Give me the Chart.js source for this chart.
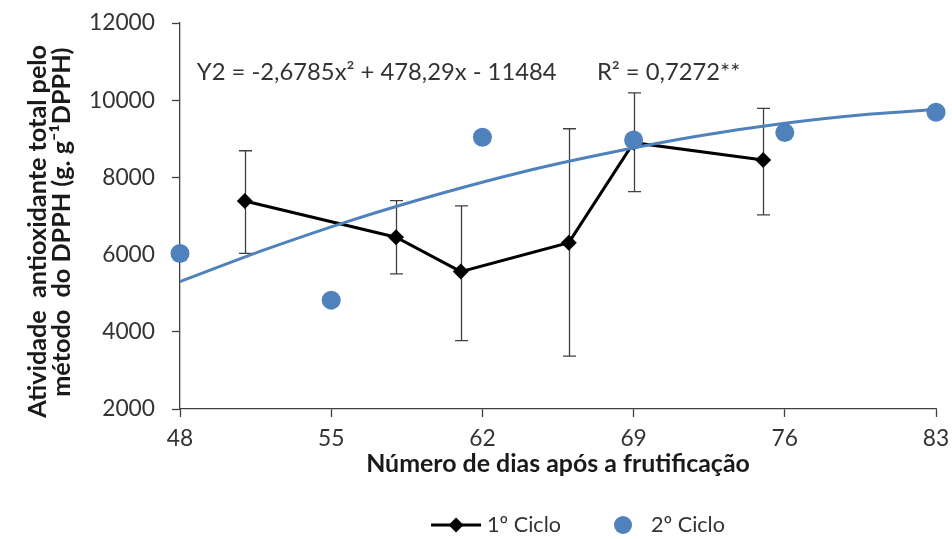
<!DOCTYPE html>
<html><head><meta charset="utf-8">
<script src="https://cdn.jsdelivr.net/npm/chart.js@4.4.0/dist/chart.umd.min.js"></script>
<style>html,body{margin:0;padding:0;background:#fff;}#wrap{width:952px;height:539px;}</style>
</head><body><div id="wrap"><canvas id="c" width="952" height="539"></canvas></div>
<script>
// ---- data ----
const days1 = [51, 58, 61, 66, 69, 75];
const ciclo1 = [7390, 6450, 5560, 6310, 8900, 8450];
const ciclo1Low = [6030, 5500, 3770, 3370, 7630, 7030];
const ciclo1High = [8690, 7400, 7260, 9260, 10190, 9790];
const days2 = [48, 55, 62, 69, 76, 83];
const ciclo2 = [6030, 4820, 9040, 8970, 9160, 9690];
const trendDays = [48, 52, 56, 60, 64, 68, 72, 76, 80, 83];
const trendValues = [5300, 6140, 6900, 7570, 8160, 8650, 9070, 9400, 9640, 9760];
const xTicks = [48, 55, 62, 69, 76, 83];
const yTicks = [2000, 4000, 6000, 8000, 10000, 12000];
const seriesNames = ['1º Ciclo', '2º Ciclo'];
const xTitle = 'Número de dias após a frutificação';
const yTitle = ['Atividade  antioxidante total pelo', 'método  do DPPH (g. g⁻¹DPPH)'];
const equationText = 'Y2 = -2,6785x² + 478,29x - 11484';
const r2Text = 'R² = 0,7272**';
const equationPos = [48.78, 10730];
const r2Pos = [67.3, 10730];

const BLUE = '#4F81BD';
const AXIS = '#404040';
const TXT = '#333333';
const FAM = 'Lato, "Open Sans", sans-serif';

const mctx = document.createElement('canvas').getContext('2d');
function fitSize(text, weight, target) {
  mctx.font = weight + ' 100px ' + FAM;
  return 100 * target / mctx.measureText(text).width;
}
const yTitleSize = fitSize(yTitle[0], 'bold', 373);
const xTitleSize = fitSize(xTitle, 'bold', 384);
const eqSize = fitSize(equationText, 'normal', 360);
const tickSize = fitSize('12000', 'normal', 66);
const legSize = fitSize(seriesNames[0], 'normal', 74);

function padLine(text, shiftPx) {
  mctx.font = 'bold ' + yTitleSize + 'px ' + FAM;
  const base = mctx.measureText(text).width;
  let t = text;
  while (mctx.measureText(t).width < base + 2 * shiftPx) t += ' ';
  return t;
}
const yTitleLines = [padLine(yTitle[0], 15), padLine(yTitle[1], 6)];

const errorBars = {
  id: 'errorBars',
  beforeDatasetsDraw(chart) {
    const {ctx, scales: {x, y}} = chart;
    ctx.save();
    ctx.strokeStyle = AXIS; ctx.lineWidth = 1.3;
    days1.forEach((d, i) => {
      const px = Math.round(x.getPixelForValue(d)) + 0.5;
      const t = y.getPixelForValue(ciclo1High[i]);
      const b = y.getPixelForValue(ciclo1Low[i]);
      ctx.beginPath();
      ctx.moveTo(px, t); ctx.lineTo(px, b);
      ctx.moveTo(px - 6.5, t); ctx.lineTo(px + 6.5, t);
      ctx.moveTo(px - 6.5, b); ctx.lineTo(px + 6.5, b);
      ctx.stroke();
    });
    ctx.restore();
  }
};

const annotations = {
  id: 'annotations',
  afterDraw(chart) {
    const {ctx, scales: {x, y}} = chart;
    ctx.save();
    ctx.fillStyle = TXT;
    ctx.textBaseline = 'middle';
    ctx.textAlign = 'left';
    ctx.font = eqSize + 'px ' + FAM;
    ctx.fillText(equationText, x.getPixelForValue(equationPos[0]), y.getPixelForValue(equationPos[1]));
    ctx.fillText(r2Text, x.getPixelForValue(r2Pos[0]), y.getPixelForValue(r2Pos[1]));

    // legend
    ctx.font = legSize + 'px ' + FAM;
    const w1 = ctx.measureText(seriesNames[0]).width;
    const w2 = ctx.measureText(seriesNames[1]).width;
    const total = 50 + 6 + w1 + 62 + 28 + w2;
    const cx = (chart.chartArea.left + chart.chartArea.right) / 2 + 20;
    const cy = 525;
    let L = cx - total / 2;
    ctx.strokeStyle = '#000'; ctx.lineWidth = 3;
    ctx.beginPath(); ctx.moveTo(L, cy); ctx.lineTo(L + 50, cy); ctx.stroke();
    ctx.fillStyle = '#000';
    ctx.beginPath();
    ctx.moveTo(L + 25, cy - 7.5); ctx.lineTo(L + 32.5, cy); ctx.lineTo(L + 25, cy + 7.5); ctx.lineTo(L + 17.5, cy);
    ctx.closePath(); ctx.fill();
    ctx.fillStyle = TXT;
    ctx.fillText(seriesNames[0], L + 56, cy);
    const ccx = L + 56 + w1 + 62;
    ctx.fillStyle = BLUE;
    ctx.beginPath(); ctx.arc(ccx, cy, 9, 0, Math.PI * 2); ctx.fill();
    ctx.fillStyle = TXT;
    ctx.fillText(seriesNames[1], ccx + 28, cy);
    ctx.restore();
  }
};

new Chart(document.getElementById('c'), {
  type: 'line',
  data: {
    datasets: [
      {
        label: seriesNames[1],
        data: days2.map((d, i) => ({x: d, y: ciclo2[i]})),
        showLine: false,
        pointRadius: 9.5,
        pointHoverRadius: 9.5,
        pointBackgroundColor: BLUE,
        pointBorderWidth: 0,
        borderColor: BLUE,
        clip: false,
        order: 0
      },
      {
        label: 'trend',
        data: trendDays.map((d, i) => ({x: d, y: trendValues[i]})),
        borderColor: BLUE,
        borderWidth: 3,
        pointRadius: 0,
        pointHoverRadius: 0,
        tension: 0.4,
        cubicInterpolationMode: 'monotone',
        fill: false,
        clip: false,
        order: 1
      },
      {
        label: seriesNames[0],
        data: days1.map((d, i) => ({x: d, y: ciclo1[i]})),
        borderColor: '#000',
        borderWidth: 3,
        pointStyle: 'rectRot',
        pointRadius: 8,
        pointHoverRadius: 8,
        pointBackgroundColor: '#000',
        pointBorderWidth: 0,
        tension: 0,
        fill: false,
        clip: false,
        order: 2
      }
    ]
  },
  options: {
    responsive: false,
    animation: false,
    devicePixelRatio: 1,
    events: [],
    layout: {autoPadding: false, padding: {left: 0, right: 16, top: 23, bottom: 50}},
    plugins: {legend: {display: false}, tooltip: {enabled: false}},
    scales: {
      x: {
        type: 'linear', min: 48, max: 83,
        afterBuildTicks(s) { s.ticks = xTicks.map(v => ({value: v})); },
        afterFit(s) { s.height = 80; s.paddingLeft = 0; s.paddingRight = 0; },
        border: {color: AXIS, width: 1.3},
        grid: {drawOnChartArea: false, drawTicks: true, tickLength: 8, tickColor: AXIS, tickWidth: 1.3},
        ticks: {padding: 8, color: TXT, font: {family: FAM, size: tickSize}, callback: v => String(v), maxRotation: 0},
        title: {display: true, text: xTitle, color: '#1a1a1a', font: {family: FAM, size: xTitleSize, weight: 'bold', lineHeight: 1.2}, padding: {top: 0, bottom: 10}}
      },
      y: {
        type: 'linear', min: 2000, max: 12000,
        afterBuildTicks(s) { s.ticks = yTicks.map(v => ({value: v})); },
        afterFit(s) { s.width = 180; s.paddingTop = 0; s.paddingBottom = 0; },
        border: {color: AXIS, width: 1.3},
        grid: {drawOnChartArea: false, drawTicks: true, tickLength: 8, tickColor: AXIS, tickWidth: 1.3},
        ticks: {padding: 17, color: TXT, font: {family: FAM, size: tickSize}, callback: v => String(v)},
        title: {display: true, text: yTitleLines, color: '#1a1a1a', font: {family: FAM, size: yTitleSize, weight: 'bold', lineHeight: 24 / yTitleSize}, padding: {top: 26, bottom: 0}}
      }
    }
  },
  plugins: [errorBars, annotations]
});
</script>
</body></html>
